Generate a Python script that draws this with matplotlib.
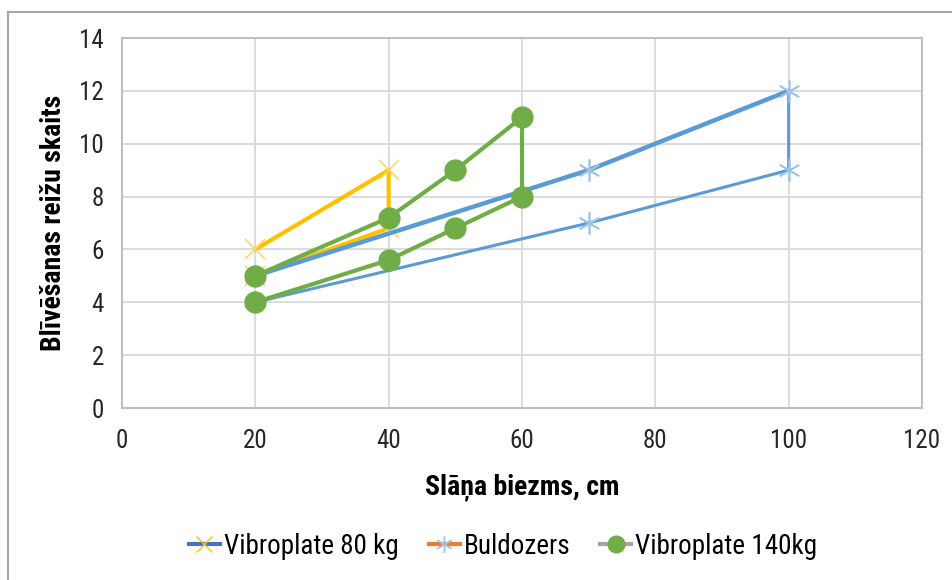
import matplotlib
matplotlib.use("Agg")
import matplotlib.pyplot as plt
from matplotlib.lines import Line2D
from matplotlib.patches import Rectangle
from matplotlib import font_manager

# Data: layer thickness (cm) vs number of compaction passes
vib80_x = [20, 40, 40, 20]
vib80_y = [6, 9, 6.8, 5]

buld_x = [20, 70, 100, 100, 70, 20]
buld_y = [5, 9, 12, 9, 7, 4]

vib140_x = [20, 40, 50, 60, 60, 50, 40, 20]
vib140_y = [5, 7.2, 9, 11, 8, 6.8, 5.6, 4]

x_ticks = [0, 20, 40, 60, 80, 100, 120]
y_ticks = [0, 2, 4, 6, 8, 10, 12, 14]

series_names = ["Vibroplate 80 kg", "Buldozers", "Vibroplate 140kg"]

# narrow sans face, falling back through common condensed families
names = {f.name for f in font_manager.fontManager.ttflist}
candidates = ["Liberation Sans Narrow", "Arial Narrow", "Roboto Condensed",
              "Archivo Narrow", "Barlow Semi Condensed", "Liberation Sans"]
face = next(c for c in candidates if c in names)
plt.rcParams["font.family"] = [face, "DejaVu Sans"]

YELLOW = "#FFC000"
BLUE = "#5B9BD5"
GREEN = "#70AD47"
ORANGE = "#ED7D31"
GRID = "#D9D9D9"

fig = plt.figure(figsize=(9.53, 5.80), dpi=100)
ax = fig.add_axes([122 / 953, 1 - 408 / 580, (922 - 122) / 953, (408 - 38) / 580])

# outer chart frame
fig.patches.append(Rectangle((8 / 953, -0.05), 1.1, 1 - 12 / 580 + 0.05,
                             transform=fig.transFigure, fill=False,
                             edgecolor="#A6A6A6", linewidth=1.5))

# Vibroplate 80 kg
ax.plot(vib80_x, vib80_y, color=YELLOW, linewidth=3, marker="x",
        markersize=14, markeredgewidth=1.2, markeredgecolor="#FFD966", zorder=3)

# Buldozers: polygon plus heavier upper edge
ax.plot(buld_x, buld_y, color=BLUE, linewidth=2.2, zorder=3)
ax.plot(buld_x[:3], buld_y[:3], color=BLUE, linewidth=3.2, zorder=3)
ax.plot(buld_x, buld_y, linestyle="none", marker=(6, 2, 0), markersize=16,
        markeredgewidth=1.2, markeredgecolor="#9DC3E6", zorder=3)

# Vibroplate 140kg
ax.plot(vib140_x, vib140_y, color=GREEN, linewidth=3, marker="o",
        markersize=15, markerfacecolor=GREEN, markeredgecolor=GREEN, zorder=4)

ax.set_xlim(0, 120)
ax.set_ylim(0, 14)
ax.set_xticks(x_ticks)
ax.set_yticks(y_ticks)
ax.grid(True, color=GRID, linewidth=1.3)
ax.set_axisbelow(True)
ax.tick_params(length=0, labelsize=18, colors="#262626")
ax.tick_params(axis="x", pad=15)
ax.tick_params(axis="y", pad=13)
for sp in ax.spines.values():
    sp.set_color("#BFBFBF")
    sp.set_linewidth(1.5)

ax.set_xlabel("Slāņa biezms, cm", fontsize=20, fontweight="bold", labelpad=15, color="#000000")
ax.set_ylabel("Blīvēšanas reižu skaits", fontsize=20, fontweight="bold", labelpad=9, color="#000000")

handles = [
    (Line2D([], [], color="#4472C4", linewidth=3),
     Line2D([], [], linestyle="none", marker="x", color=YELLOW, markersize=12, markeredgewidth=1)),
    (Line2D([], [], color=ORANGE, linewidth=3),
     Line2D([], [], linestyle="none", marker=(6, 2, 0), color="#9DC3E6", markersize=12, markeredgewidth=1)),
    (Line2D([], [], color="#A5A5A5", linewidth=3),
     Line2D([], [], linestyle="none", marker="o", color=GREEN, markersize=12)),
]
fig.legend(handles, series_names, loc="center", bbox_to_anchor=(0.528, 1 - 546 / 580),
           ncol=3, frameon=False, fontsize=19.5, handlelength=1.15, handletextpad=0.15,
           columnspacing=1.1)

fig.savefig("out.png", dpi=100)
